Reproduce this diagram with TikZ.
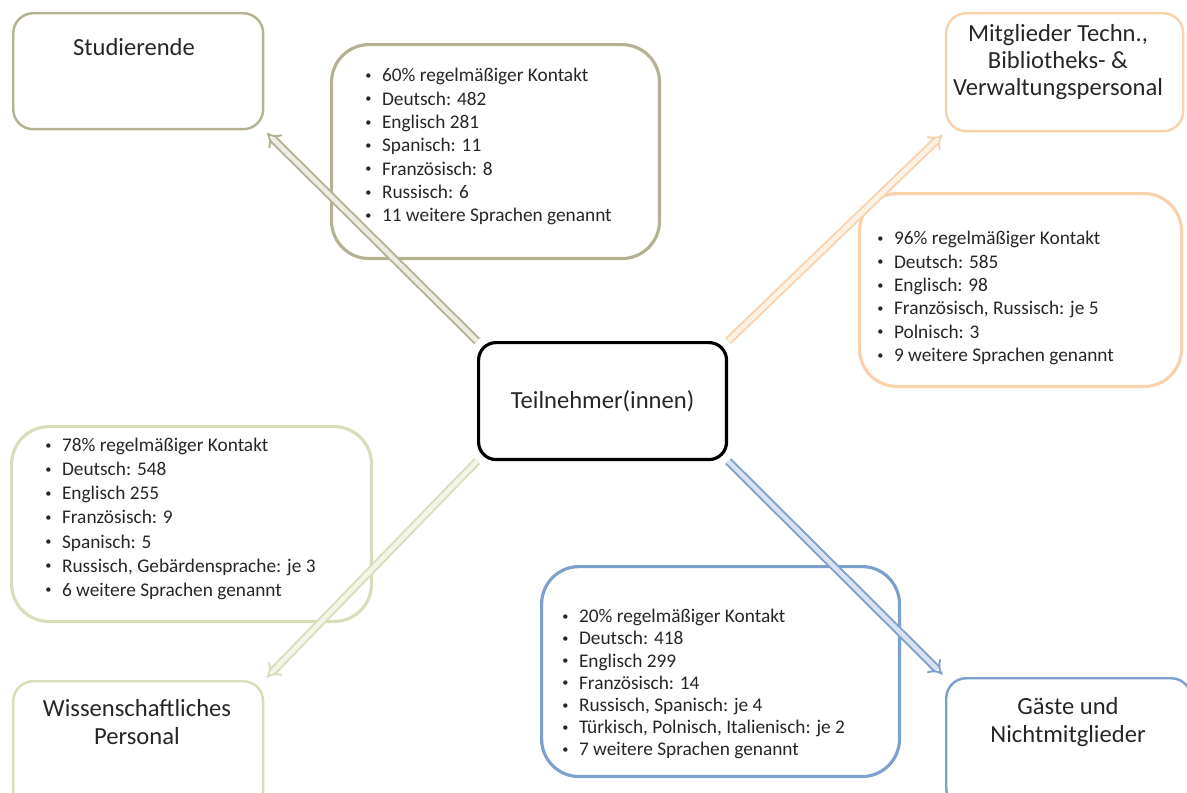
\documentclass[tikz,border=0pt]{standalone}
\usepackage{fontspec}
\setmainfont{Carlito}
\usepackage{tikz}
\usetikzlibrary{arrows.meta,positioning}
\definecolor{studcol}{RGB}{181,178,147}
\definecolor{mitcol}{RGB}{249,210,172}
\definecolor{wisscol}{RGB}{216,222,186}
\definecolor{gastcol}{RGB}{126,160,204}
\tikzset{>=latex}
\tikzset{
  catbox/.style={draw, rounded corners=0.4cm, line width=1.4pt, anchor=north west, inner sep=0pt},
  infobox/.style={draw, rounded corners=0.75cm, line width=1.8pt, anchor=north west, inner sep=0pt},
  infolist/.style={anchor=north west, align=left, inner sep=0pt, text=black!85, font=\fontsize{11}{13.3}\selectfont},
  cattext/.style={align=center, inner sep=0pt, text=black!85, font=\fontsize{14}{15.5}\selectfont},
  link/.style={double, line width=1.1pt, double distance=2.6pt, -{Implies}, shorten >=2pt}
}
\newcommand{\itm}{\raisebox{0.25ex}{\fontsize{7}{7}\selectfont\textbullet}\hspace{6pt}}

\begin{document}
\begin{tikzpicture}[x=0.02cm, y=-0.02cm]
    \useasboundingbox (0,0) rectangle (1187,792);
    % centre
    \node [draw, rounded corners=0.35cm, line width=1.8pt, anchor=north west, minimum width=4.96cm, minimum height=2.34cm, cattext] (ctr) at (477,341) {Teilnehmer(innen)};
    % four groups
    \node [catbox, draw=studcol, minimum width=5cm, minimum height=2.32cm] (stud) at (12,12) {};
    \node [cattext, anchor=base] (studtxt) at (134,55) {Studierende};
    \node [catbox, draw=mitcol, minimum width=4.74cm, minimum height=2.36cm] (mit) at (945,12) {};
    \node [cattext] (mittxt) at (1058,62) {Mitglieder Techn.,\\Bibliotheks- \&\\Verwaltungspersonal};
    \node [catbox, draw=wisscol, minimum width=5cm, minimum height=2.6cm] (wiss) at (12,680) {};
    \node [cattext] (wisstxt) at (137,722) {Wissenschaftliches\\Personal};
    \node [catbox, draw=gastcol, minimum width=4.9cm, minimum height=2.6cm] (gast) at (945,677) {};
    \node [cattext] (gasttxt) at (1068,722) {Gäste und\\Nichtmitglieder};
    % language lists
    \node [infobox, draw=studcol, minimum width=6.56cm, minimum height=4.28cm] (studinfo) at (330,43) {};
    \node [infolist] (studlist) at (365,68) {\itm 60\% regelmäßiger Kontakt\\\itm Deutsch: 482\\\itm Englisch 281\\\itm Spanisch: 11\\\itm Französisch: 8\\\itm Russisch: 6\\\itm 11 weitere Sprachen genannt};
    \node [infobox, draw=mitcol, minimum width=6.44cm, minimum height=3.86cm] (mitinfo) at (858,192) {};
    \node [infolist] (mitlist) at (877,231) {\itm 96\% regelmäßiger Kontakt\\\itm Deutsch: 585\\\itm Englisch: 98\\\itm Französisch, Russisch: je 5\\\itm Polnisch: 3\\\itm 9 weitere Sprachen genannt};
    \node [infobox, draw=wisscol, minimum width=7.2cm, minimum height=3.9cm] (wissinfo) at (10,425) {};
    \node [infolist, font=\fontsize{11}{13.7}\selectfont] (wisslist) at (45,438) {\itm 78\% regelmäßiger Kontakt\\\itm Deutsch: 548\\\itm Englisch 255\\\itm Französisch: 9\\\itm Spanisch: 5\\\itm Russisch, Gebärdensprache: je 3\\\itm 6 weitere Sprachen genannt};
    \node [infobox, draw=gastcol, minimum width=7.16cm, minimum height=4.2cm] (gastinfo) at (540,565) {};
    \node [infolist, font=\fontsize{11}{12.6}\selectfont] (gastlist) at (562,609) {\itm 20\% regelmäßiger Kontakt\\\itm Deutsch: 418\\\itm Englisch 299\\\itm Französisch: 14\\\itm Russisch, Spanisch: je 4\\\itm Türkisch, Polnisch, Italienisch: je 2\\\itm 7 weitere Sprachen genannt};
    % arrows
    \draw [link, studcol, double=studcol!25] (ctr.north west) -- (stud.south east);
    \draw [link, mitcol, double=mitcol!30] (ctr.north east) -- (mit.south west);
    \draw [link, wisscol, double=wisscol!30] (ctr.south west) -- (wiss.north east);
    \draw [link, gastcol, double=gastcol!30] (ctr.south east) -- (gast.north west);
\end{tikzpicture}
\end{document}
